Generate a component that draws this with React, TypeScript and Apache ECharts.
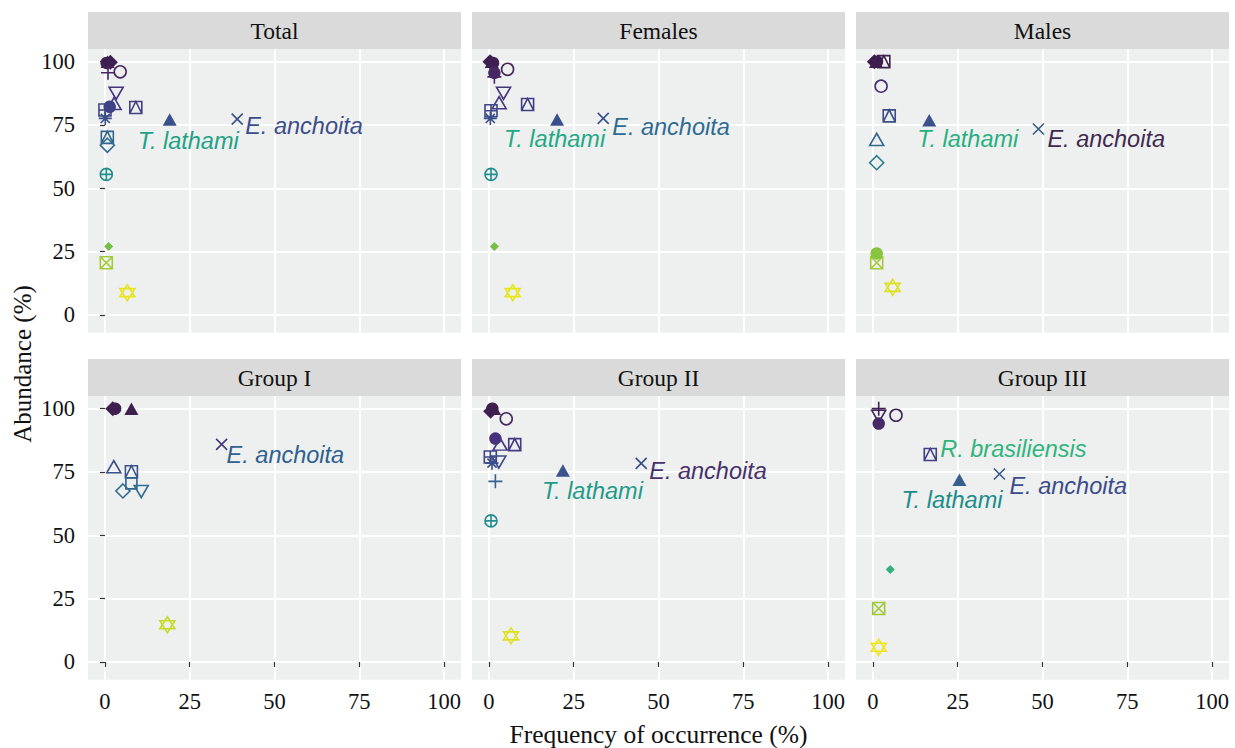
import React, { useEffect, useRef } from "react";
import * as echarts from "echarts";

// ---------------- DATA ----------------
const panelNames = ["Total", "Females", "Males", "Group I", "Group II", "Group III"];
const xTicks = [0, 25, 50, 75, 100];
const yTicks = [0, 25, 50, 75, 100];

// [frequency of occurrence (%), abundance (%), shape]
type Pt = [number, number, string];

const totalPoints: Pt[] = [
  [0.8, 100, "ftri"], [0.5, 99.5, "fcircle"], [1.6, 99.8, "fdiamond"],
  [0.9, 95.6, "plus"], [4.5, 96, "ocircle"], [3.3, 87.5, "odtri"],
  [2.7, 83.5, "otri"], [1.4, 82.2, "fcircle"], [0, 80.9, "sqplus"],
  [0.1, 77.6, "asterisk"], [9.1, 81.9, "sqtri"], [19.1, 77.2, "ftri"],
  [39, 77.3, "cross"], [0.7, 70.1, "sqtri"], [0.7, 67, "odiamond"],
  [0.4, 55.5, "cplus"], [1.1, 27, "fdiamondS"], [0.4, 20.6, "sqcross"],
  [6.6, 8.8, "star"],
];
const femalesPoints: Pt[] = [
  [0.8, 100, "ftri"], [0.3, 100, "fdiamond"], [1.2, 99.5, "fcircle"],
  [1.6, 94, "plus"], [1.6, 95.6, "fcircle"], [5.5, 97, "ocircle"],
  [4.3, 87.5, "odtri"], [3.0, 83.8, "otri"], [0.6, 80.6, "sqplus"],
  [0.4, 77.6, "asterisk"], [11.4, 83.1, "sqtri"], [20.1, 77.2, "ftri"],
  [33.7, 77.6, "cross"], [0.6, 55.5, "cplus"], [1.6, 27, "fdiamondS"],
  [7.0, 8.8, "star"],
];
const malesPoints: Pt[] = [
  [3.2, 100, "sqtri"], [0.4, 100, "fdiamond"], [1.2, 100, "fcircle"], [0.9, 100, "ftri"],
  [2.4, 90.3, "ocircle"], [4.8, 78.6, "sqtri"], [16.6, 76.9, "ftri"],
  [48.8, 73.4, "cross"], [1.1, 69.3, "otri"], [1.1, 60.1, "odiamond"],
  [1.1, 20.6, "sqcross"], [1.1, 24.3, "fcircle"], [5.8, 10.9, "star"],
];
const group1Points: Pt[] = [
  [2.3, 100, "fdiamond"], [3.0, 100, "fcircle"], [7.8, 100, "ftri"],
  [34.4, 85.9, "cross"], [2.6, 77.1, "otri"], [7.8, 75.1, "sqtri"],
  [7.8, 70.5, "osquare"], [5.3, 67.5, "odiamond"], [10.7, 67.3, "odtri"],
  [18.4, 14.7, "star"],
];
const group2Points: Pt[] = [
  [1.5, 100, "ftri"], [0.5, 99, "fdiamond"], [1.0, 100, "fcircle"],
  [5.1, 96, "ocircle"], [1.9, 88.2, "fcircle"], [3.3, 86, "otri"],
  [7.6, 85.8, "sqtri"], [0.4, 80.9, "sqplus"], [0.9, 78.5, "asterisk"],
  [2.9, 78.9, "odtri"], [21.8, 75.6, "ftri"], [44.9, 78.4, "cross"],
  [1.9, 71.3, "plus"], [0.6, 55.7, "cplus"], [6.5, 10.3, "star"],
];
const group3Points: Pt[] = [
  [1.7, 100, "plus"], [1.7, 97, "odtri"], [1.7, 94.1, "fcircle"],
  [6.8, 97.4, "ocircle"], [16.9, 81.9, "sqtri"], [25.5, 71.9, "ftri"],
  [37.3, 74.2, "cross"], [5.1, 36.5, "fdiamondS"], [1.7, 21.1, "sqcross"],
  [1.7, 5.8, "star"],
];
const panelPoints = [totalPoints, femalesPoints, malesPoints, group1Points, group2Points, group3Points];

// species labels: panel index, text, anchor point (x, y)
const speciesLabels = [
  { panel: 0, text: "E. anchoita", x: 39, y: 77.3 },
  { panel: 0, text: "T. lathami", x: 19.1, y: 77.2 },
  { panel: 1, text: "E. anchoita", x: 33.7, y: 77.6 },
  { panel: 1, text: "T. lathami", x: 20.1, y: 77.2 },
  { panel: 2, text: "E. anchoita", x: 48.8, y: 73.4 },
  { panel: 2, text: "T. lathami", x: 16.6, y: 76.9 },
  { panel: 3, text: "E. anchoita", x: 34.4, y: 85.9 },
  { panel: 4, text: "E. anchoita", x: 44.9, y: 78.4 },
  { panel: 4, text: "T. lathami", x: 21.8, y: 75.6 },
  { panel: 5, text: "R. brasiliensis", x: 16.9, y: 81.9 },
  { panel: 5, text: "T. lathami", x: 25.5, y: 71.9 },
  { panel: 5, text: "E. anchoita", x: 37.3, y: 74.2 },
];

// ---------------- STYLE ----------------
// label placement (pixel offsets of text left edge / vertical middle) and colours
const labelStyles = [
  { dx: 8, dy: 7, color: "#3c4d8a" },
  { dx: -32, dy: 22, color: "#1fa187" },
  { dx: 9, dy: 9, color: "#2c6b94" },
  { dx: -53, dy: 20, color: "#22a884" },
  { dx: 9, dy: 10, color: "#3f2a4f" },
  { dx: -12, dy: 19, color: "#29af7f" },
  { dx: 5, dy: 11, color: "#2e6190" },
  { dx: 8, dy: 8, color: "#47306b" },
  { dx: -21, dy: 21, color: "#1f9a8a" },
  { dx: 10, dy: -6, color: "#2fb47c" },
  { dx: -58, dy: 20, color: "#1b8c8b" },
  { dx: 10, dy: 12, color: "#3b4c8c" },
];

const colorStops: [number, string][] = [
  [0, "#fde725"], [9, "#e6e419"], [15, "#c5d829"], [21, "#a0c93a"], [25, "#82c341"],
  [28, "#6cbf48"], [37, "#2db27d"], [55, "#21908d"], [61, "#2a768e"], [68, "#2f6a8e"],
  [71, "#33628d"], [75, "#3a548c"], [78, "#3b4f8a"], [82, "#413f86"], [86, "#453781"],
  [92, "#472b70"], [96, "#46275f"], [100, "#3e1f4f"],
];

function hexToRgb(h: string) {
  return [parseInt(h.slice(1, 3), 16), parseInt(h.slice(3, 5), 16), parseInt(h.slice(5, 7), 16)];
}
function colorScale(v: number) {
  if (v <= colorStops[0][0]) return colorStops[0][1];
  for (let i = 1; i < colorStops.length; i++) {
    if (v <= colorStops[i][0]) {
      const [v0, c0] = colorStops[i - 1];
      const [v1, c1] = colorStops[i];
      const t = (v - v0) / (v1 - v0);
      const a = hexToRgb(c0), b = hexToRgb(c1);
      const m = a.map((x, k) => Math.round(x + (b[k] - x) * t));
      return `rgb(${m[0]},${m[1]},${m[2]})`;
    }
  }
  return colorStops[colorStops.length - 1][1];
}

const SHAPES: Record<string, { symbol: string; size: number | number[]; filled: boolean }> = {
  fcircle: { symbol: "circle", size: 12.5, filled: true },
  fdiamond: { symbol: "diamond", size: 15, filled: true },
  fdiamondS: { symbol: "diamond", size: 9, filled: true },
  ftri: { symbol: "triangle", size: [14, 12.5], filled: true },
  ocircle: { symbol: "circle", size: 12, filled: false },
  otri: { symbol: "triangle", size: [14, 12], filled: false },
  odtri: { symbol: "path://M1 2 L19 2 L10 17.6 Z", size: [14, 12], filled: false },
  osquare: { symbol: "rect", size: 11, filled: false },
  odiamond: { symbol: "diamond", size: 14, filled: false },
  plus: { symbol: "path://M10 0 L10 20 M0 10 L20 10", size: 14, filled: false },
  cross: { symbol: "path://M0 0 L20 20 M20 0 L0 20", size: 11, filled: false },
  asterisk: { symbol: "path://M10 0 L10 20 M0 10 L20 10 M3 3 L17 17 M17 3 L3 17", size: 13, filled: false },
  cplus: { symbol: "path://M0 10 A10 10 0 1 1 20 10 A10 10 0 1 1 0 10 Z M10 0 L10 20 M0 10 L20 10", size: 12, filled: false },
  sqplus: { symbol: "path://M0 0 L20 0 L20 20 L0 20 Z M10 0 L10 20 M0 10 L20 10", size: 12, filled: false },
  sqcross: { symbol: "path://M0 0 L20 0 L20 20 L0 20 Z M0 0 L20 20 M20 0 L0 20", size: 12, filled: false },
  sqtri: { symbol: "path://M0 0 L20 0 L20 20 L0 20 Z M0 20 L10 0 L20 20", size: 12, filled: false },
  star: { symbol: "path://M10 0 L20 15 L0 15 Z M10 20 L0 5 L20 5 Z", size: [15, 16], filled: false },
};

const COL_LEFT = [88, 472, 856];
const ROW_TOP = [49, 396];
const PANEL_W = 373;
const PANEL_H = 283.7;
const STRIP_H = 37;
const SERIF = "Liberation Serif";
const SANS = "Liberation Sans";
const TEXT_COLOR = "#111111";

export default function App() {
  const ref = useRef<HTMLDivElement>(null);

  useEffect(() => {
    if (!ref.current) return;
    const chart = echarts.init(ref.current, undefined, { renderer: "svg" });

    const grids: any[] = [];
    const xAxes: any[] = [];
    const yAxes: any[] = [];
    const series: any[] = [];
    const graphics: any[] = [];

    panelNames.forEach((name, i) => {
      const r = Math.floor(i / 3);
      const c = i % 3;
      grids.push({
        left: COL_LEFT[c], top: ROW_TOP[r], width: PANEL_W, height: PANEL_H,
        show: true, backgroundColor: "#eef0ef", borderWidth: 0, containLabel: false,
      });
      xAxes.push({
        gridIndex: i, type: "value", min: -5, max: 105,
        axisLine: { show: false },
        axisTick: { show: r === 1, length: 5, customValues: xTicks, lineStyle: { color: "#333", width: 1.2 } },
        axisLabel: {
          show: r === 1, customValues: xTicks, margin: 10,
          fontFamily: SERIF, fontSize: 22.5, color: TEXT_COLOR,
        },
        splitLine: { show: true, lineStyle: { color: "#ffffff", width: 2 } },
      });
      yAxes.push({
        gridIndex: i, type: "value", min: -7, max: 105,
        axisLine: { show: false },
        axisTick: { show: c === 0, length: 5, customValues: yTicks, lineStyle: { color: "#333", width: 1.2 } },
        axisLabel: {
          show: c === 0, customValues: yTicks, margin: 13,
          fontFamily: SERIF, fontSize: 22.5, color: TEXT_COLOR,
        },
        splitLine: { show: true, lineStyle: { color: "#ffffff", width: 2 } },
      });

      series.push({
        type: "scatter", xAxisIndex: i, yAxisIndex: i, z: 3,
        symbolKeepAspect: false,
        itemStyle: { opacity: 1 },
        data: panelPoints[i].map(([x, y, s]) => {
          const sh = SHAPES[s];
          const col = colorScale(y);
          return {
            value: [x, y], symbol: sh.symbol, symbolSize: sh.size,
            itemStyle: sh.filled
              ? { color: col, borderWidth: 0, opacity: 1 }
              : { color: "rgba(0,0,0,0)", borderColor: col, borderWidth: 1.6, opacity: 1 },
          };
        }),
      });

      const labs = speciesLabels
        .map((l, k) => ({ ...l, st: labelStyles[k] }))
        .filter((l) => l.panel === i);
      series.push({
        type: "scatter", xAxisIndex: i, yAxisIndex: i, z: 5,
        symbolSize: 1, itemStyle: { color: "rgba(0,0,0,0)", opacity: 1 }, silent: true,
        data: labs.map((l) => ({
          value: [l.x, l.y],
          label: {
            show: true, formatter: l.text, position: "inside", align: "left", verticalAlign: "middle",
            offset: [l.st.dx, l.st.dy], color: l.st.color, opacity: 1,
            fontFamily: SANS, fontStyle: "italic", fontSize: 23.5,
          },
        })),
      });

      graphics.push({
        type: "rect", shape: { x: COL_LEFT[c], y: ROW_TOP[r] - STRIP_H, width: PANEL_W, height: STRIP_H },
        style: { fill: "#dadada" }, silent: true,
      });
      graphics.push({
        type: "text", x: COL_LEFT[c] + PANEL_W / 2, y: ROW_TOP[r] - STRIP_H / 2,
        style: { text: name, fontFamily: SERIF, fontSize: 23.5, fill: TEXT_COLOR, align: "center", verticalAlign: "middle" },
        silent: true,
      });
    });

    graphics.push({
      type: "text", x: 22, y: 364, rotation: Math.PI / 2,
      style: { text: "Abundance (%)", fontFamily: SERIF, fontSize: 25, fill: TEXT_COLOR, align: "center", verticalAlign: "middle" },
      silent: true,
    });
    graphics.push({
      type: "text", x: 658.5, y: 734,
      style: { text: "Frequency of occurrence (%)", fontFamily: SERIF, fontSize: 25.5, fill: TEXT_COLOR, align: "center", verticalAlign: "middle" },
      silent: true,
    });

    chart.setOption({
      animation: false,
      backgroundColor: "#ffffff",
      grid: grids,
      xAxis: xAxes,
      yAxis: yAxes,
      series,
      graphic: graphics,
    });

    return () => chart.dispose();
  }, []);

  return (
    <div
      ref={ref}
      style={{ position: "fixed", left: 0, top: 0, width: "1235px", height: "748px" }}
    />
  );
}
